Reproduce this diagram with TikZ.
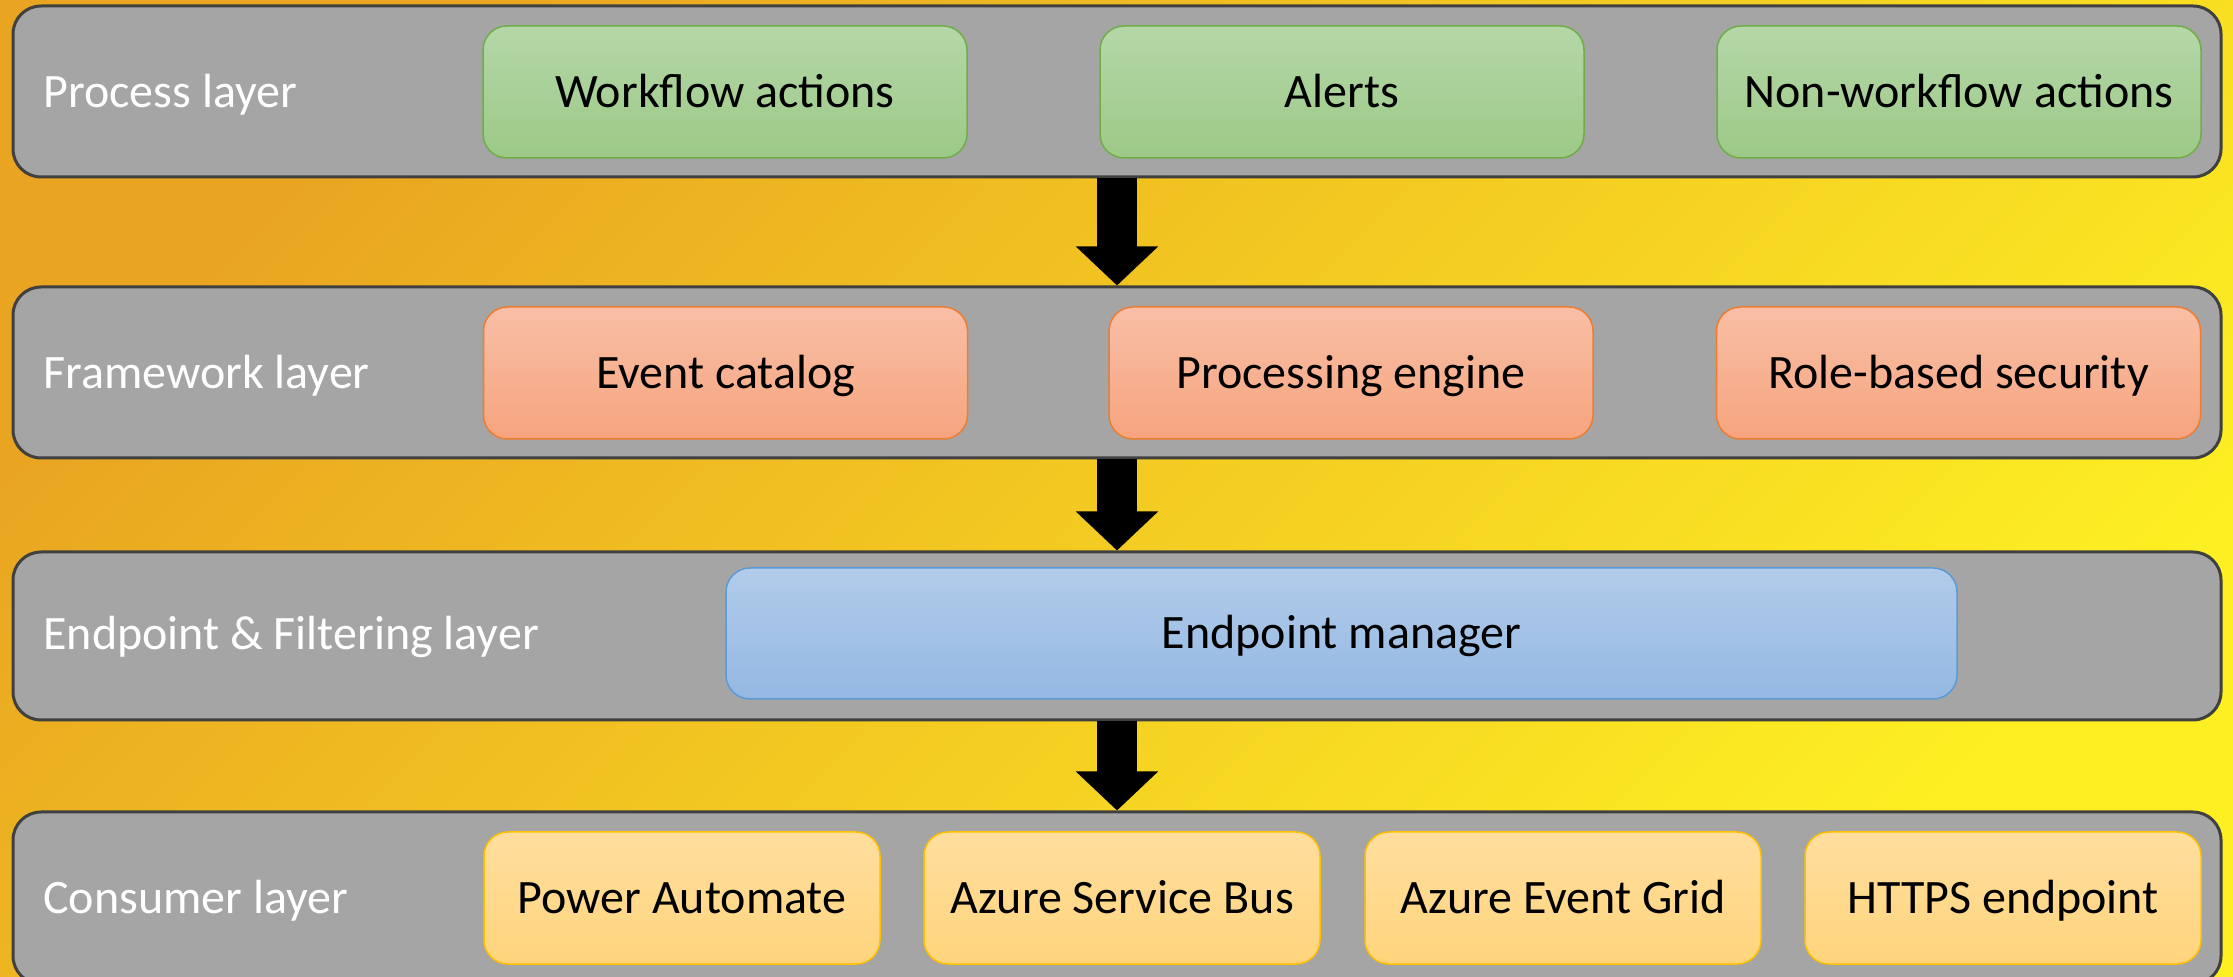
\documentclass[tikz,border=0pt]{standalone}
\usepackage{fontspec}
\setmainfont{Carlito}
\usetikzlibrary{arrows.meta}
\definecolor{bgorange}{HTML}{E9A521}
\definecolor{bgyellow}{HTML}{FDEF22}
\definecolor{bargray}{HTML}{A5A5A5}
\definecolor{barline}{HTML}{404040}
\definecolor{greentop}{HTML}{B5D7A8}
\definecolor{greenbot}{HTML}{9CC987}
\definecolor{greenline}{HTML}{70AD47}
\definecolor{salmontop}{HTML}{F8BFA6}
\definecolor{salmonbot}{HTML}{F6A47E}
\definecolor{salmonline}{HTML}{ED7D31}
\definecolor{bluetop}{HTML}{B2CCEA}
\definecolor{bluebot}{HTML}{94B8E3}
\definecolor{blueline}{HTML}{5B9BD5}
\definecolor{yellowtop}{HTML}{FFDE9E}
\definecolor{yellowbot}{HTML}{FFD47C}
\definecolor{yellowline}{HTML}{FFC000}
\begin{document}
\begin{tikzpicture}[x=0.5pt,y=-0.5pt]
            \tikzstyle{every node}+=[inner sep=0pt, font=\fontsize{24}{29}\selectfont, text height=15.2pt, text depth=0pt]
            \tikzstyle{layerbar}=[draw=barline, line width=1.5pt, fill=bargray, rounded corners=14pt, minimum width=1104pt]
            \tikzstyle{layerlabel}=[anchor=west, text=white]
            \tikzstyle{box}=[line width=0.75pt, rounded corners=12pt, minimum width=242pt, minimum height=66pt]
            \tikzstyle{procbox}=[box, draw=greenline, top color=greentop, bottom color=greenbot]
            \tikzstyle{fwbox}=[box, draw=salmonline, top color=salmontop, bottom color=salmonbot]
            \tikzstyle{epbox}=[box, draw=blueline, top color=bluetop, bottom color=bluebot, minimum width=615.5pt, minimum height=65.5pt]
            \tikzstyle{consbox}=[box, draw=yellowline, top color=yellowtop, bottom color=yellowbot, minimum width=198pt]
            \tikzstyle{blockarrow}=[line width=20pt, -{Triangle[width=40pt,length=19.5pt]}]
            \useasboundingbox (0,0) rectangle (2233,977);
            \clip (0,0) rectangle (2233,977);
            \shade [top color=bgorange, bottom color=bgyellow, shading angle=45] (0,0) rectangle (2233,977);
            % layers
            \node [layerbar, minimum height=85.5pt] (procbar) at (1117,91.5) {};
            \node [layerbar, minimum height=85.5pt] (fwbar) at (1117,372.5) {};
            \node [layerbar, minimum height=84pt] (epbar) at (1117,636) {};
            \node [layerbar, minimum height=86pt] (consbar) at (1117,898) {};
            \node [layerlabel] (proclbl) at (43,92) {Process layer};
            \node [layerlabel] (fwlbl) at (43,373) {Framework layer};
            \node [layerlabel] (eplbl) at (43,634) {Endpoint \& Filtering layer};
            \node [layerlabel] (conslbl) at (43,898) {Consumer layer};
            % process layer
            \node [procbox] (wfactions) at (725,92) {Workflow actions};
            \node [procbox] (alerts) at (1342,92) {Alerts};
            \node [procbox] (nonwf) at (1959,92) {Non-workflow actions};
            % framework layer
            \node [fwbox] (catalog) at (725.5,373) {Event catalog};
            \node [fwbox] (engine) at (1351,373) {Processing engine};
            \node [fwbox] (rbsec) at (1958.5,373) {Role-based security};
            % endpoint layer
            \node [epbox] (epmgr) at (1341.5,633.5) {Endpoint manager};
            % consumer layer
            \node [consbox] (pauto) at (682,898) {Power Automate};
            \node [consbox] (asbus) at (1122,898) {Azure Service Bus};
            \node [consbox] (evgrid) at (1563,898) {Azure Event Grid};
            \node [consbox] (https) at (2003,898) {HTTPS endpoint};
            % arrows
            \draw [blockarrow] (procbar.south) -- (fwbar.north);
            \draw [blockarrow] (fwbar.south) -- (epbar.north);
            \draw [blockarrow] (epbar.south) -- (consbar.north);
        \end{tikzpicture}
\end{document}
